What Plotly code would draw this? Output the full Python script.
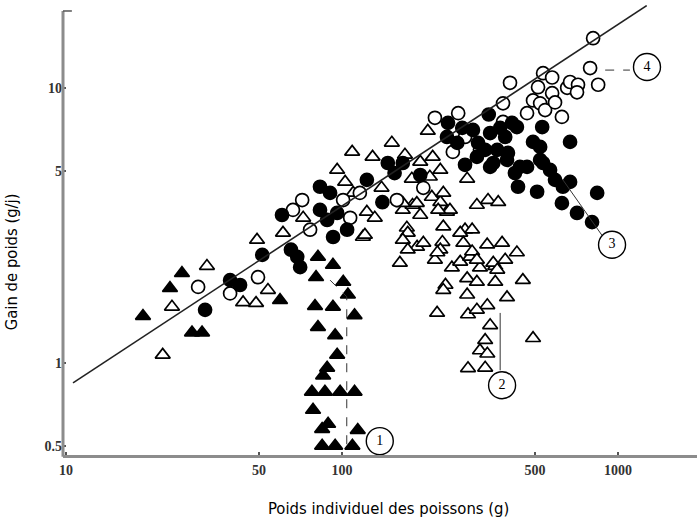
import plotly.graph_objects as go

# Group 1 (filled triangles)
g1_x = [19.0, 23.8, 26.3, 28.6, 31.1, 59.6, 81.8, 92.7, 80.5, 101, 105, 79.8, 92.7, 111, 81.8,
        94.4, 96, 88.3, 85.4, 77.8, 86.7, 98.4, 111, 78.5, 89, 84.7, 114, 84.7, 94.4, 109]
g1_y = [1.48, 1.87, 2.12, 1.29, 1.29, 1.69, 2.43, 2.27, 2.05, 1.97, 1.77, 1.61, 1.60, 1.49, 1.35,
        1.26, 1.07, 0.96, 0.90, 0.785, 0.785, 0.785, 0.785, 0.675, 0.60, 0.575, 0.57, 0.5, 0.5, 0.5]

# Group 2 (open triangles)
g2_x = [22.4, 24.2, 32.4, 43.8, 48.8, 53.9, 49.2, 61.1, 72.3, 96.0, 108.8, 119,
        129, 151.5, 169, 192, 204.5, 213, 227, 208, 179, 139, 284,
        123, 131.4, 166, 180, 192, 211.5, 227, 240, 171.7, 232.7, 279, 296, 308, 338, 368,
        173, 187, 166, 197, 231, 268, 246, 223, 335.6, 380, 430, 162, 217, 227, 250, 268,
        291, 316, 359, 390, 237, 284, 308, 359, 396, 284, 336, 452, 221, 286, 308, 344,
        330, 316, 336, 492, 286, 330,
        102.6, 109.7, 232.7, 166, 186.6, 121, 173, 221.5, 275, 296, 308, 353, 365, 232.7]
g2_y = [1.07, 1.60, 2.25, 1.66, 1.65, 1.84, 2.80, 2.97, 3.37, 5.03, 5.85, 2.87,
        5.61, 6.31, 5.71, 5.38, 6.97, 5.61, 5.03, 4.75, 4.67, 4.33, 4.67,
        3.54, 3.37, 3.60, 3.75, 3.45, 4.01, 3.84, 3.54, 3.10, 3.13, 3.05, 3.05, 3.75, 3.91, 3.84,
        2.97, 2.64, 2.80, 2.73, 2.75, 2.97, 3.60, 3.60, 2.69, 2.73, 2.52, 2.31, 2.37, 2.58, 2.22, 2.33,
        2.43, 2.22, 2.25, 2.37, 1.92, 2.03, 1.97, 1.97, 1.73, 1.77, 1.62, 2.00, 1.52, 1.50, 1.56, 1.37,
        1.21, 1.11, 1.08, 1.23, 0.956, 0.96,
        4.55, 4.15, 4.15, 3.81, 3.81, 2.92, 2.58, 2.52, 2.73, 2.54, 2.37, 2.31, 2.18, 1.84]

# Group 3 (filled circles)
g3_x = [31.9, 39.3, 42.7, 51.4, 60.6, 68.8, 70.5, 65.3, 83.2, 90.5, 83.2, 88.3, 96, 104.3, 92.8,
        123, 140, 146.5, 155, 166, 192, 240, 242, 261.5, 298, 308, 340, 344, 365, 353, 390, 396,
        399, 423, 430, 434, 441, 492, 509, 522, 531, 567, 591, 626, 631, 670, 670, 710, 805, 840,
        413, 522, 535, 468, 344, 272.6, 311, 374, 279, 330]
g3_y = [1.56, 2.00, 1.92, 2.47, 3.45, 2.43, 2.23, 2.58, 4.37, 4.15, 3.60, 3.31, 3.51, 3.05, 2.87,
        4.63, 3.84, 5.33, 4.90, 5.33, 4.82, 6.63, 7.46, 6.31, 7.03, 5.61, 8.0, 6.85, 5.95, 5.33, 6.63, 5.47,
        5.80, 4.90, 7.2, 4.37, 5.16, 6.36, 4.19, 5.47, 7.2, 5.03, 4.63, 3.81, 4.37, 6.36, 4.55, 3.51, 3.25, 4.15,
        7.46, 6.10, 5.33, 5.16, 5.16, 7.15, 6.31, 7.15, 5.25, 5.95]

# Group 4 (open circles)
g4_x = [30.1, 39.3, 49.6, 66.4, 71.7, 76.6, 100.9, 107, 116, 158, 197, 217, 263.5, 279, 316, 252,
        406, 383, 383, 468, 492, 522, 544, 513, 535, 577, 577, 591, 626, 654, 670, 716, 710, 792, 812, 847]
g4_y = [1.89, 1.79, 2.05, 3.60, 3.91, 3.05, 3.91, 3.37, 4.15, 3.91, 4.33, 7.78, 8.09, 6.63, 5.95, 5.85,
        10.43, 8.78, 7.52, 8.09, 9.0, 8.78, 8.3, 10.05, 11.3, 10.9, 9.56, 8.85, 7.84, 10.0, 10.5, 10.26, 9.63, 11.8, 15.15, 10.26]

# Regression line end points
fit_x = [10.6, 1270]
fit_y = [0.846, 19.9]

# Leader lines for the numbered labels
lead1_x = [90.5, 104, 104]
lead1_y = [2.0, 1.74, 0.495]
lead2_x = [374, 374]
lead2_y = [1.52, 0.94]
lead3_x = [631, 883]
lead3_y = [4.63, 2.87]
lead4_x = [898, 1104]
lead4_y = [11.6, 11.6]

# Numbered labels
lbl_x = [137, 380, 951, 1273]
lbl_y = [0.52, 0.83, 2.69, 11.9]
lbl_text = ["1", "2", "3", "4"]

x_ticks = [10, 50, 100, 500, 1000]
x_ticktext = ["10", "50", "100", "500", "1000"]
y_ticks = [0.5, 1, 5, 10]
y_ticktext = ["0.5", "1", "5", "10"]

fig = go.Figure()

def pts(x, y, symbol, fill, size):
    fig.add_trace(go.Scatter(
        x=x, y=y, mode="markers", showlegend=False, cliponaxis=False,
        marker=dict(symbol=symbol, size=size, color=fill,
                    line=dict(color="black", width=1.7))))

pts(g2_x, g2_y, "triangle-up", "white", 13)
pts(g1_x, g1_y, "triangle-up", "black", 13)
pts(g4_x, g4_y, "circle", "white", 13)
pts(g3_x, g3_y, "circle", "black", 13)

fig.add_trace(go.Scatter(x=fit_x, y=fit_y, mode="lines", showlegend=False,
                         line=dict(color="#222", width=1.6)))

for lx, ly, dash in [(lead1_x, lead1_y, "dash"), (lead2_x, lead2_y, "solid"),
                     (lead3_x, lead3_y, "solid"), (lead4_x, lead4_y, "dash")]:
    fig.add_trace(go.Scatter(x=lx, y=ly, mode="lines", showlegend=False,
                             line=dict(color="#333", width=1, dash=dash)))

fig.add_trace(go.Scatter(
    x=lbl_x, y=lbl_y, mode="markers+text", text=lbl_text, showlegend=False,
    cliponaxis=False, textposition="middle center",
    textfont=dict(family="Liberation Serif", size=14, color="black"),
    marker=dict(symbol="circle", size=27, color="white", line=dict(color="black", width=1.4))))

tick_font = dict(family="Liberation Serif", size=14, color="#333", weight="bold")
title_font = dict(family="Liberation Sans Narrow, DejaVu Sans Condensed, Roboto", size=16.5, color="black")

fig.update_layout(
    width=698, height=523,
    margin=dict(l=63, r=1, t=5, b=68),
    paper_bgcolor="white", plot_bgcolor="white",
    xaxis=dict(type="log", range=[0.989, 3.286], tickvals=x_ticks, ticktext=x_ticktext,
               showgrid=False, zeroline=False, showline=True, linecolor="#8c8c8c", linewidth=3,
               ticks="inside", ticklen=3, tickwidth=1.5, tickcolor="#555", tickfont=tick_font),
    yaxis=dict(type="log", range=[-0.3345, 1.301], tickvals=y_ticks, ticktext=y_ticktext,
               showgrid=False, zeroline=False, showline=False,
               ticks="inside", ticklen=3, tickwidth=1.5, tickcolor="#555", tickfont=tick_font),
    shapes=[
        dict(type="line", xref="paper", yref="paper", x0=0, x1=0, y0=-0.004, y1=0.9867,
             line=dict(color="#8c8c8c", width=3)),
        dict(type="line", xref="paper", yref="paper", x0=0, x1=0.014, y0=0.9867, y1=0.9867,
             line=dict(color="#555", width=1.5)),
    ],
    annotations=[
        dict(text="Poids individuel des poissons (g)", xref="paper", yref="paper",
             x=0.513, y=-0.118, showarrow=False, xanchor="center", yanchor="middle",
             font=title_font),
        dict(text="Gain de poids (g/j)", xref="paper", yref="paper",
             x=-0.080, y=0.429, showarrow=False, textangle=-90, xanchor="center", yanchor="middle",
             font=title_font),
    ],
)

fig.write_html("out.html", config={"displayModeBar": False},
               post_script="document.body.style.margin='0';")
